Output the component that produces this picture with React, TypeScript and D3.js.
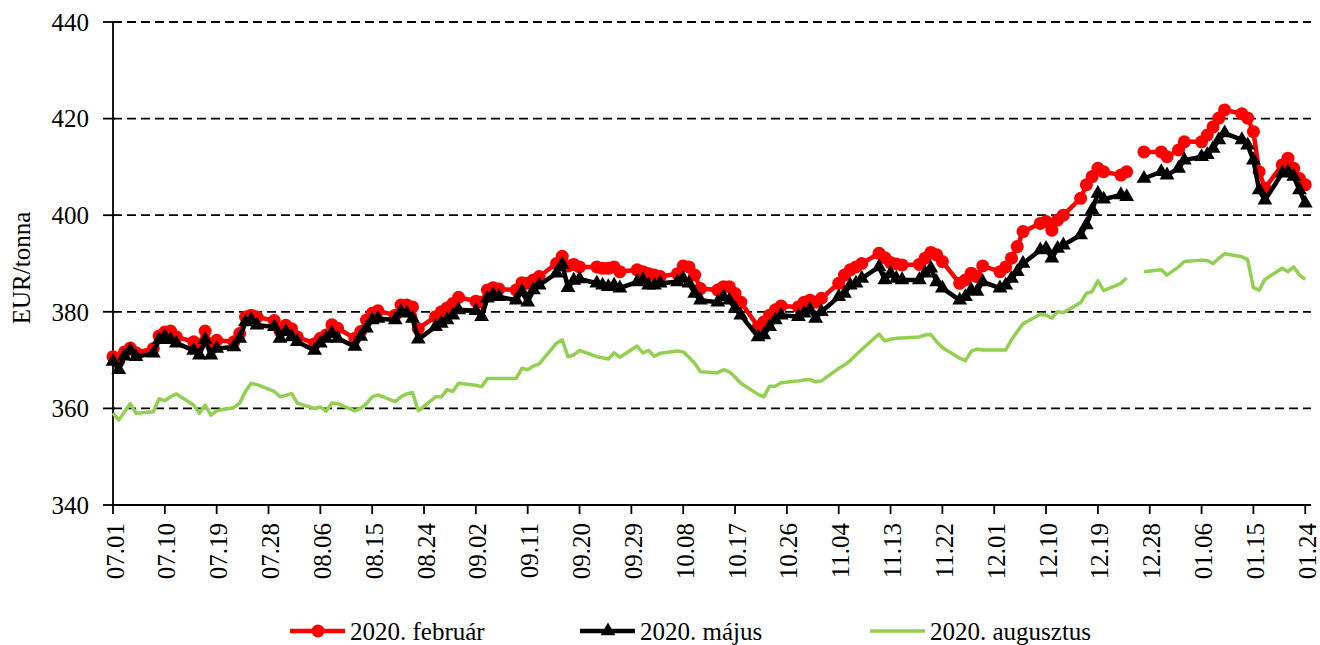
import React from "react";
import * as d3 from "d3";

// trading days (MM.DD), 2019-07-01 .. 2020-01-24
const dates = [
  "07.01", "07.02", "07.03", "07.04", "07.05", "07.08", "07.09", "07.10", "07.11", "07.12", "07.15", "07.16",
  "07.17", "07.18", "07.19", "07.22", "07.23", "07.24", "07.25", "07.26", "07.29", "07.30", "07.31",
  "08.01", "08.02", "08.05", "08.06", "08.07", "08.08", "08.09", "08.12", "08.13", "08.14", "08.15", "08.16",
  "08.19", "08.20", "08.21", "08.22", "08.23", "08.26", "08.27", "08.28", "08.29", "08.30",
  "09.02", "09.03", "09.04", "09.05", "09.06", "09.09", "09.10", "09.11", "09.12", "09.13", "09.16", "09.17",
  "09.18", "09.19", "09.20", "09.23", "09.24", "09.25", "09.26", "09.27", "09.30",
  "10.01", "10.02", "10.03", "10.04", "10.07", "10.08", "10.09", "10.10", "10.11", "10.14", "10.15", "10.16",
  "10.17", "10.18", "10.21", "10.22", "10.23", "10.24", "10.25", "10.28", "10.29", "10.30", "10.31",
  "11.01", "11.04", "11.05", "11.06", "11.07", "11.08", "11.11", "11.12", "11.13", "11.14", "11.15", "11.18",
  "11.19", "11.20", "11.21", "11.22", "11.25", "11.26", "11.27", "11.28", "11.29",
  "12.02", "12.03", "12.04", "12.05", "12.06", "12.09", "12.10", "12.11", "12.12", "12.13", "12.16", "12.17",
  "12.18", "12.19", "12.20", "12.23", "12.24", "12.25", "12.26", "12.27", "12.30", "12.31",
  "01.02", "01.03", "01.06", "01.07", "01.08", "01.09", "01.10", "01.13", "01.14", "01.15", "01.16", "01.17",
  "01.20", "01.21", "01.22", "01.23", "01.24",
];

const februar = [
  370.7, 369.8, 371.7, 372.5, 371.5, 372.4, 375, 375.8, 376, 374.8, 373.8, 373.2,
  376, 373.4, 374.1, 373.8, 375.5, 378.9, 379.3, 378.9, 378.2, 376, 377.2,
  376.5, 374.8, 373.4, 374.5, 375.2, 377.3, 376.6, 374.5, 375.9, 378.3, 379.7, 380.2,
  379.3, 381.4, 381.4, 381, 376.5, 379, 380, 380.8, 381.7, 383,
  382.2, 382, 384.5, 385, 384.7, 384.5, 386, 385.9, 386.6, 387.3, 390, 391.5,
  389.5, 389.8, 389.3, 389.3, 389, 389, 389.3, 388.3, 388.7,
  388.3, 387.9, 387.6, 387.3, 387.9, 389.5, 389.3, 387.6, 384.8, 384.5, 385.2, 385.2,
  383.8, 382, 376.9, 377.9, 379.3, 380.4, 381.2, 381, 382, 382.4, 382,
  382.8, 385.9, 387.6, 388.7, 389.3, 390, 392.1, 391.2, 390.2, 389.9, 389.7, 389.8,
  391.1, 392.3, 391.8, 390.4, 385.9, 386.6, 388, 387.3, 389.5,
  388.3, 389.3, 391.1, 393.5, 396.6, 398.3, 398.7, 396.9, 399, 400, 403.5, 406.3,
  408, 409.7, 409, 408.3, 409, null, null, 413.1, 413.1, 412.1,
  413.5, 415.2, 415.2, 416.6, 418.3, 420.1, 421.8, 421, 420.1, 417.3, 409, 405.6,
  410.4, 411.8, 409.7, 407.6, 406.3,
];

const majus = [
  369.7, 368, 370.8, 372, 370.7, 371.4, 374.2, 374.9, 374.2, 373.5, 372, 371,
  374.2, 371, 372.4, 372.7, 374.5, 377.9, 378.3, 377.2, 376.9, 374.5, 375.9,
  374.8, 373.8, 372, 373.5, 374.5, 375.5, 374.5, 372.8, 374.9, 376.6, 378.3, 378.6,
  378.3, 380, 379.7, 378.6, 374.3, 376.9, 377.6, 378.3, 379.3, 380.4,
  380.2, 379, 382.8, 383.5, 383.1, 382.4, 384.2, 382, 384.5, 385.5, 388, 389.8,
  385, 386.5, 386.8, 385.9, 385.5, 385.2, 385.5, 384.9, 386.2,
  386.6, 385.5, 385.5, 385.9, 386.2, 386.9, 385.9, 383.8, 382.4, 382, 383.1, 382.4,
  380.7, 379.3, 374.8, 375.2, 376.9, 378.3, 379.3, 379, 379.7, 380.4, 378.6,
  380, 383.1, 383.8, 385.5, 385.9, 386.9, 389.3, 386.6, 387.9, 386.9, 386.6, 386.6,
  388, 389, 386.2, 384.9, 382.4, 383.1, 384.5, 384.2, 386.2,
  384.9, 385.5, 386.9, 388.3, 390, 392.8, 393.1, 391.1, 393.1, 393.8, 395.9, 398,
  401.1, 404.5, 403.3, 404.2, 403.8, null, null, 407.6, 409, 408.3,
  409.7, 411.4, 412.1, 412.5, 413.8, 415.6, 417, 415.6, 414.5, 411.4, 405.2, 403.1,
  408.7, 409, 408, 405.2, 402.5,
];

const augusztus = [
  359, 357.6, 359.3, 361, 359, 359.3, 362, 361.6, 362.4, 363, 360.7, 359,
  360.7, 358.6, 359.5, 360.2, 361.1, 363.5, 365.2, 364.9, 363.5, 362.4, 362.7,
  363.1, 361.1, 360, 360.3, 359.4, 361.1, 361, 359.5, 360, 361, 362.4, 362.8,
  361.4, 362.4, 363, 363.3, 359.5, 362.4, 362.4, 363.9, 363.5, 365.2,
  364.8, 364.5, 366.2, 366.2, 366.2, 366.2, 368.3, 368, 368.8, 369.2, 373.5, 374.2,
  370.7, 371.1, 372, 370.7, 370.5, 370.2, 371.5, 370.6, 372.9,
  371.5, 372, 370.8, 371.4, 371.9, 371.7, 370.6, 369.3, 367.6, 367.4, 368, 367.6,
  366.5, 365.2, 362.9, 362.4, 364.6, 364.6, 365.3, 365.7, 365.9, 366, 365.5,
  365.7, 368.3, 369, 369.9, 371.1, 372.2, 375.4, 374, 374.3, 374.5, 374.6, 374.8,
  375.2, 375.3, 373.8, 372.6, 370.4, 369.9, 371.8, 372.3, 372.1,
  372.1, 372.1, 374.2, 375.9, 377.5, 379.5, 379.3, 378.7, 380, 379.8, 381.9, 383.8,
  384.2, 386.4, 384.4, 385.9, 387, null, null, 388.3, 388.7, 387.6,
  389.3, 390.4, 390.7, 390.6, 390, 391.1, 392, 391.4, 390.8, 385, 384.5, 386.7,
  389, 388.3, 389.3, 387.6, 386.7,
];

const seriesNames = ["2020. február", "2020. május", "2020. augusztus"];
const yTicks = [340, 360, 380, 400, 420, 440];
const yLabel = "EUR/tonna";

const FONT = "'Liberation Serif', 'Times New Roman', serif";

type Pt = { date: Date; v: number | null };

const parseDate = (s: string) => {
  const [m, d] = s.split(".").map(Number);
  return new Date(Date.UTC(m >= 7 ? 2019 : 2020, m - 1, d));
};

const toPoints = (vals: (number | null)[]): Pt[] =>
  dates.map((s, i) => ({ date: parseDate(s), v: vals[i] }));

export default function App() {
  const width = 1320;
  const height = 645;
  const margin = { top: 22, right: 9, bottom: 140, left: 113 };

  const start = new Date(Date.UTC(2019, 6, 1));
  const end = new Date(Date.UTC(2020, 0, 25));

  const x = d3.scaleUtc().domain([start, end]).range([margin.left, width - margin.right]);
  const y = d3.scaleLinear().domain([340, 440]).range([height - margin.bottom, margin.top]);

  const xTicks = d3.utcDay.range(start, end, 9);
  const fmt = d3.utcFormat("%m.%d");

  const line = d3
    .line<Pt>()
    .defined((p) => p.v != null)
    .x((p) => x(p.date))
    .y((p) => y(p.v as number));

  const red = toPoints(februar);
  const black = toPoints(majus);
  const green = toPoints(augusztus);

  const tri = d3.symbol(d3.symbolTriangle, 95)() as string;

  const x0 = margin.left;
  const x1 = width - margin.right;
  const yBase = y(340);

  // legend
  const legendY = 631;
  const legend = [
    { x: 290, color: "#FF0000", marker: "circle" },
    { x: 580, color: "#000000", marker: "triangle" },
    { x: 870, color: "#92D050", marker: "none" },
  ];

  return (
    <div>
      <style>{`body{margin:0}`}</style>
      <svg width={width} height={height} style={{ display: "block", background: "#fff" }} fontFamily={FONT}>
        {/* gridlines */}
        {yTicks
          .filter((t) => t > 340)
          .map((t) => (
            <line key={t} x1={x0} x2={x1} y1={y(t)} y2={y(t)} stroke="#000" strokeWidth={1.8} strokeDasharray="9,5" />
          ))}

        {/* y axis */}
        <line x1={x0} x2={x0} y1={y(440)} y2={yBase} stroke="#000" strokeWidth={1.8} />
        {yTicks.map((t) => (
          <g key={t}>
            <line x1={x0 - 10} x2={x0 + 2} y1={y(t)} y2={y(t)} stroke="#000" strokeWidth={1.8} />
            <text x={x0 - 24} y={y(t)} dy="0.35em" textAnchor="end" fontSize={25}>
              {t}
            </text>
          </g>
        ))}
        <text transform={`translate(30, 268) rotate(-90)`} textAnchor="middle" fontSize={25}>
          {yLabel}
        </text>

        {/* x axis */}
        <line x1={x0} x2={x1} y1={yBase} y2={yBase} stroke="#000" strokeWidth={1.8} />
        {xTicks.map((t) => (
          <g key={+t}>
            <line x1={x(t)} x2={x(t)} y1={yBase} y2={yBase + 9} stroke="#000" strokeWidth={1.8} />
            <text
              transform={`translate(${x(t)}, ${yBase + 18}) rotate(-90)`}
              dy="0.42em"
              textAnchor="end"
              fontSize={25}
            >
              {fmt(t)}
            </text>
          </g>
        ))}

        {/* series */}
        <path d={line(red) ?? ""} fill="none" stroke="#FF0000" strokeWidth={4.5} strokeLinejoin="round" />
        {red
          .filter((p) => p.v != null)
          .map((p, i) => (
            <circle key={i} cx={x(p.date)} cy={y(p.v as number)} r={6.5} fill="#FF0000" />
          ))}
        <path d={line(black) ?? ""} fill="none" stroke="#000" strokeWidth={4.5} strokeLinejoin="round" />
        {black
          .filter((p) => p.v != null)
          .map((p, i) => (
            <path key={i} d={tri} transform={`translate(${x(p.date)},${y(p.v as number)})`} fill="#000" />
          ))}
        <path d={line(green) ?? ""} fill="none" stroke="#92D050" strokeWidth={3.5} strokeLinejoin="round" />

        {/* legend */}
        {legend.map((l, i) => (
          <g key={i}>
            <line x1={l.x} x2={l.x + 55} y1={legendY} y2={legendY} stroke={l.color} strokeWidth={l.marker === "none" ? 3.5 : 4.5} />
            {l.marker === "circle" && <circle cx={l.x + 28} cy={legendY} r={6.5} fill={l.color} />}
            {l.marker === "triangle" && <path d={tri} transform={`translate(${l.x + 28},${legendY})`} fill={l.color} />}
            <text x={l.x + 60} y={legendY} dy="0.35em" fontSize={25}>
              {seriesNames[i]}
            </text>
          </g>
        ))}
      </svg>
    </div>
  );
}
